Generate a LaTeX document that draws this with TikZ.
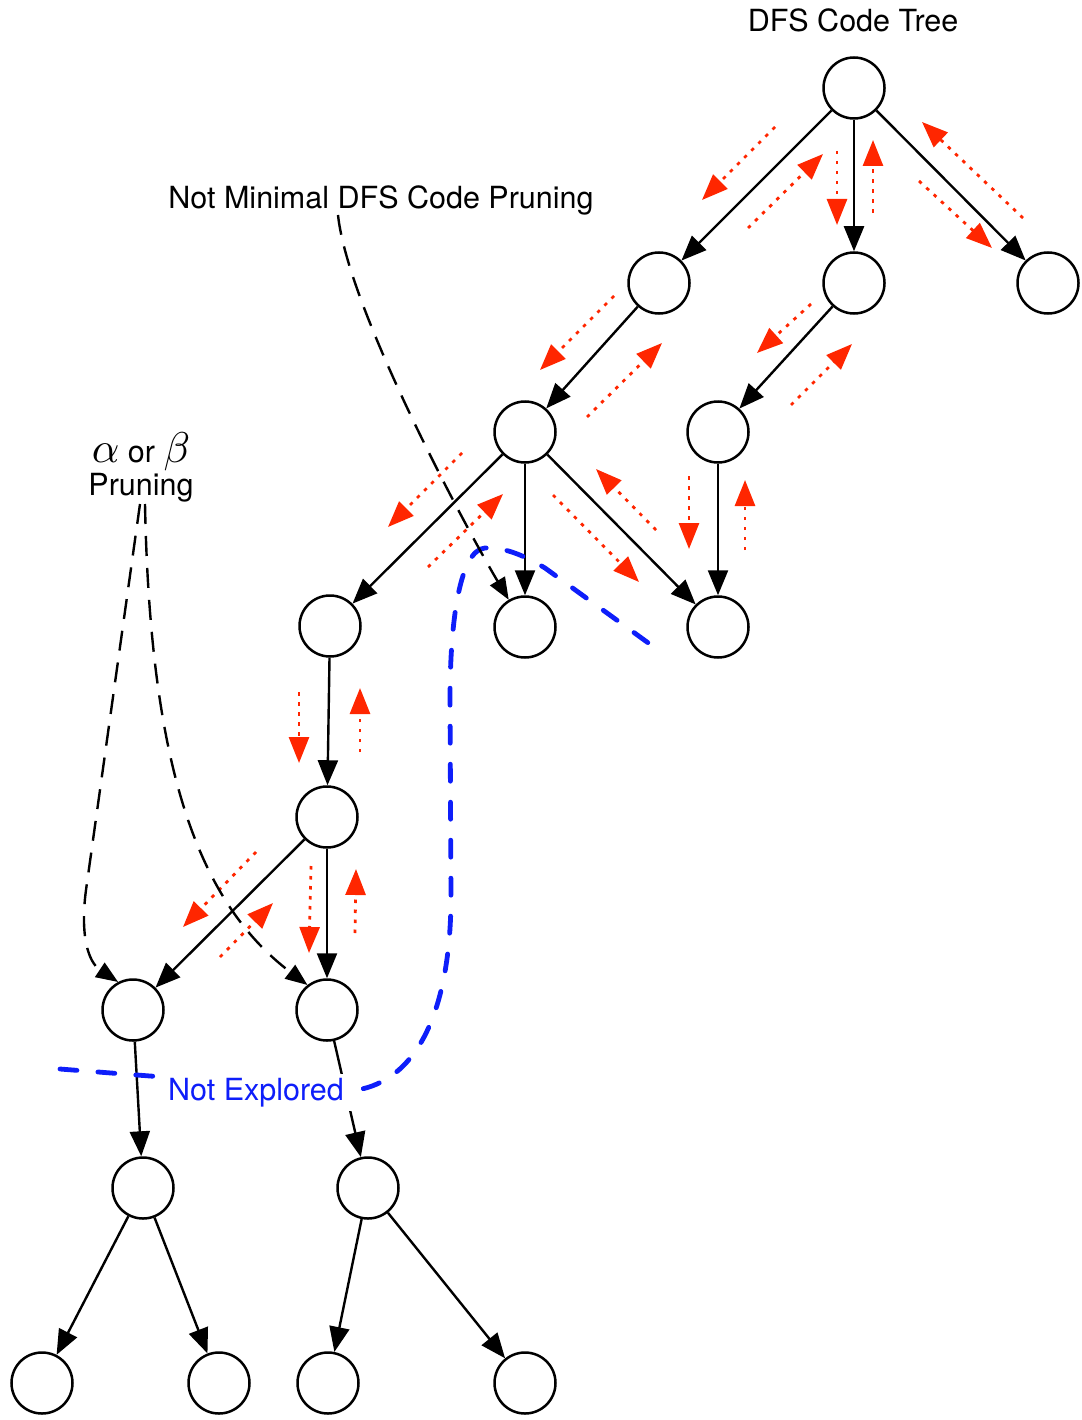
\documentclass[tikz,border=0pt]{standalone}
\usepackage{graphicx}
\usepackage{fontspec}
\setmainfont{TeX Gyre Heros}
\usetikzlibrary{arrows.meta,calc}

\definecolor{tourred}{RGB}{255,38,0}
\definecolor{fenceblue}{RGB}{14,30,250}

% one red dotted leg of the depth-first walk, given as two offsets from a node
\newcommand\tourleg[3]{\draw[tour] ($(#1)+#2$) -- ($(#1)+#3$);}
% large italic Greek letter for the pruning label
\newcommand\biggreek[1]{{\fontsize{10}{10}\selectfont\scalebox{4.3}{$#1$}}}

\begin{document}
\begin{tikzpicture}[x=1pt,y=-1pt,
  vtx/.style={circle,draw,line width=2.5pt,minimum size=61pt,inner sep=0pt},
  link/.style={line width=2.4pt,-{Triangle[length=25pt 0 0,width=20pt 0 0]}},
  tour/.style={tourred,line width=2.8pt,dash pattern=on 3.5pt off 6.5pt,
    -{Triangle[length=26pt 0 0,width=20pt 0 0]}},
  prune/.style={line width=2.4pt,dash pattern=on 20pt off 12pt,
    -{Triangle[length=22pt 0 0,width=17pt 0 0]}},
  fence/.style={fenceblue,line width=4.8pt,line cap=round,dash pattern=on 17pt off 21pt},
  lbltext/.style={font=\fontsize{30.5}{33}\selectfont}
]
\useasboundingbox (0,0) rectangle (1081,1420);

% tree vertices
\node[vtx] (r) at (854,88) {};
\node[vtx] (a) at (659,283) {};
\node[vtx] (b) at (854,283) {};
\node[vtx] (c) at (1048,283) {};
\node[vtx] (d) at (525,432) {};
\node[vtx] (e) at (718,432) {};
\node[vtx] (f) at (330,626) {};
\node[vtx] (g) at (525,627) {};
\node[vtx] (h) at (718,627) {};
\node[vtx] (i) at (327,817) {};
\node[vtx] (j) at (133,1010) {};
\node[vtx] (k) at (327,1010) {};
\node[vtx] (l) at (143,1188) {};
\node[vtx] (m) at (368,1188) {};
\node[vtx] (n) at (42,1383) {};
\node[vtx] (o) at (219,1383) {};
\node[vtx] (p) at (328,1383) {};
\node[vtx] (q) at (525,1383) {};

% tree edges
\draw[link] (r) -- (a);
\draw[link] (r) -- (b);
\draw[link] (r) -- (c);
\draw[link] (a) -- (d);
\draw[link] (b) -- (e);
\draw[link] (d) -- (f);
\draw[link] (d) -- (g);
\draw[link] (d) -- (h);
\draw[link] (e) -- (h);
\draw[link] (f) -- (i);
\draw[link] (i) -- (j);
\draw[link] (i) -- (k);
\draw[link] (j) -- (l);
\draw[link] (k) -- (m);
\draw[link] (l) -- (n);
\draw[link] (l) -- (o);
\draw[link] (m) -- (p);
\draw[link] (m) -- (q);

% depth-first walk: down on one side of an edge, back up on the other
\tourleg{r}{(-79,39)}{(-152,112)}
\tourleg{r}{(-106,140)}{(-31,66)}
\tourleg{r}{(-17,63)}{(-17,137)}
\tourleg{r}{(19,125)}{(19,52)}
\tourleg{r}{(65,93)}{(138,160)}
\tourleg{r}{(169,130)}{(68,34)}
\tourleg{a}{(-45,13)}{(-119,87)}
\tourleg{a}{(-72,134)}{(3,60)}
\tourleg{b}{(-43,21)}{(-97,70)}
\tourleg{b}{(-63,122)}{(-2,61)}
\tourleg{d}{(-63,21)}{(-137,95)}
\tourleg{d}{(-97,135)}{(-22,62)}
\tourleg{d}{(28,63)}{(114,150)}
\tourleg{d}{(131,98)}{(71,37)}
\tourleg{e}{(-29,44)}{(-29,117)}
\tourleg{e}{(27,118)}{(27,48)}
\tourleg{f}{(-31,66)}{(-31,137)}
\tourleg{f}{(30,126)}{(30,62)}
\tourleg{i}{(-71,35)}{(-144,110)}
\tourleg{i}{(-107,140)}{(-54,86)}
\tourleg{i}{(-16,49)}{(-18,136)}
\tourleg{i}{(28,116)}{(29,52)}

% boundary of the unexplored region
\draw[fence] (60,1069) .. controls (200,1080) .. (362,1089)
  .. controls (418,1076) and (450,1010) .. (451,900)
  -- (450,700)
  .. controls (450,620) and (460,550) .. (485,548)
  .. controls (505,547) and (525,556) .. (545,568)
  -- (658,650);

% labels
\node[lbltext,anchor=base] (title) at (853,32) {DFS Code Tree};
\node[lbltext,anchor=base] (nm) at (381,209) {Not Minimal DFS Code Pruning};
\node[lbltext,align=center] (ab) at (141,467)
  {\biggreek{\alpha} or \biggreek{\beta}\\Pruning};
\node[lbltext,anchor=base,text=fenceblue,fill=white,inner xsep=12pt,inner ysep=4pt]
  (ne) at (256,1100) {Not Explored};

% pruning pointers
\coordinate (nmtail) at (338,215);
\coordinate (abl) at (140,504);
\coordinate (abr) at (145,504);
\draw[prune] (nmtail) .. controls (348,310) and (470,535) .. (g);
\draw[prune] (abl) -- (86,890) .. controls (80,935) and (88,962) .. (j.118);
\draw[prune] (abr) .. controls (150,760) and (195,900) .. (k.128);
\end{tikzpicture}
\end{document}
